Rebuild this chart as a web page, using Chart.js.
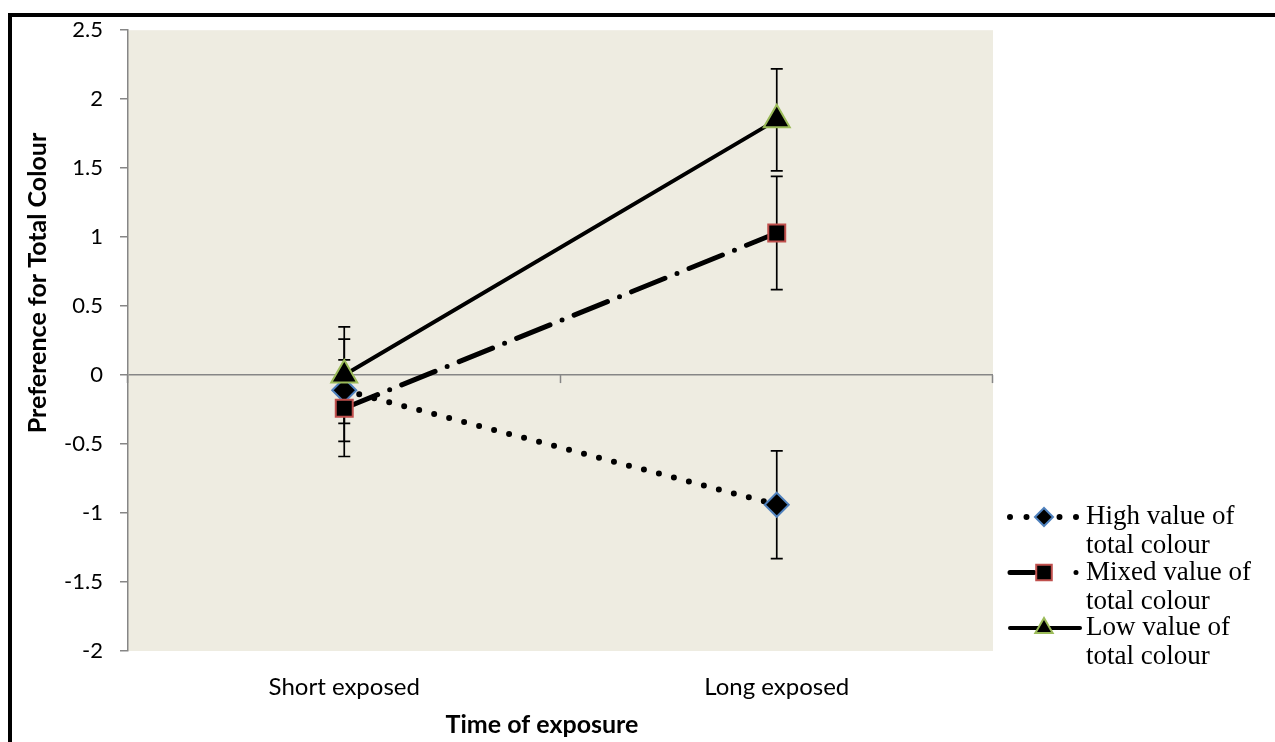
<!DOCTYPE html>
<html>
<head>
<meta charset="utf-8">
<script src="https://cdn.jsdelivr.net/npm/chart.js@4/dist/chart.umd.min.js"></script>
<style>
  html, body { margin: 0; padding: 0; background: #fff; overflow: hidden; }
  #wrap { position: absolute; left: 0; top: 0; width: 1275px; height: 742px; }
  #frame { position: absolute; left: 8px; top: 13px; width: 1300px; height: 800px;
           border-left: 4px solid #000; border-top: 4px solid #000; pointer-events: none; }
</style>
</head>
<body>
<div id="wrap"><canvas id="c" width="1275" height="742"></canvas></div>
<div id="frame"></div>
<script>
// Categories and series values (mean preference with error-bar half widths)
const categories = ['Short exposed', 'Long exposed'];
const seriesNames = [['High value of', 'total colour'], ['Mixed value of', 'total colour'], ['Low value of', 'total colour']];
const highValues = [-0.11, -0.94];
const highErrors = [0.37, 0.39];
const mixedValues = [-0.24, 1.03];
const mixedErrors = [0.35, 0.41];
const lowValues = [0.00, 1.85];
const lowErrors = [0.35, 0.37];
const yTicks = [-2, -1.5, -1, -0.5, 0, 0.5, 1, 1.5, 2, 2.5];
const xTitle = 'Time of exposure';
const yTitle = 'Preference for Total Colour';

const AXIS_FONT = 'Lato, "Open Sans", sans-serif';
const LEGEND_FONT = '"Liberation Serif", "DejaVu Serif", serif';

// Beige plot area
const plotBackground = {
  id: 'plotBackground',
  beforeDraw(chart) {
    const { ctx, chartArea: a } = chart;
    ctx.save();
    ctx.fillStyle = '#EEECE1';
    ctx.fillRect(a.left, a.top, a.right - a.left, a.bottom - a.top);
    ctx.restore();
  }
};

// Category tick marks hanging below the zero line, plus error bars
const zeroTicksAndErrors = {
  id: 'zeroTicksAndErrors',
  beforeDatasetsDraw(chart) {
    const { ctx, chartArea: a, scales: { x, y } } = chart;
    const y0 = y.getPixelForValue(0);
    ctx.save();
    ctx.strokeStyle = '#868686';
    ctx.lineWidth = 1.5;
    const n = categories.length;
    const step = (a.right - a.left) / n;
    for (let i = 0; i <= n; i++) {
      const px = Math.round(a.left + i * step) - 0.5;
      ctx.beginPath();
      ctx.moveTo(px, y0);
      ctx.lineTo(px, y0 + 8);
      ctx.stroke();
    }
    ctx.strokeStyle = '#000';
    ctx.lineWidth = 1.7;
    chart.data.datasets.forEach(ds => {
      ds.data.forEach((v, i) => {
        const e = ds.errors[i];
        const px = x.getPixelForValue(i);
        const top = y.getPixelForValue(v + e);
        const bot = y.getPixelForValue(v - e);
        ctx.beginPath();
        ctx.moveTo(px, top); ctx.lineTo(px, bot);
        ctx.moveTo(px - 6, top); ctx.lineTo(px + 6, top);
        ctx.moveTo(px - 6, bot); ctx.lineTo(px + 6, bot);
        ctx.stroke();
      });
    });
    ctx.restore();
  }
};

// Axis titles
const axisTitles = {
  id: 'axisTitles',
  afterDraw(chart) {
    const { ctx } = chart;
    ctx.save();
    ctx.fillStyle = '#000';
    ctx.font = 'bold 25px ' + AXIS_FONT;
    ctx.textAlign = 'center';
    ctx.textBaseline = 'middle';
    ctx.fillText(xTitle, 542, 725);
    ctx.translate(38, 283);
    ctx.rotate(-Math.PI / 2);
    ctx.fillText(yTitle, 0, 0);
    ctx.restore();
  }
};

// Two-line legend on the right with line samples
const sideLegend = {
  id: 'sideLegend',
  afterDraw(chart) {
    const { ctx } = chart;
    const rows = [517, 572.5, 628];
    ctx.save();
    chart.data.datasets.forEach((ds, i) => {
      const yy = rows[i];
      ctx.save();
      ctx.strokeStyle = ds.borderColor;
      ctx.lineWidth = ds.borderWidth;
      ctx.lineCap = ds.borderCapStyle || 'butt';
      ctx.setLineDash(ds.legendDash || ds.borderDash || []);
      ctx.beginPath();
      ctx.moveTo(1010, yy);
      ctx.lineTo(1080, yy);
      ctx.stroke();
      ctx.restore();
      ctx.save();
      ctx.fillStyle = ds.pointBackgroundColor;
      ctx.strokeStyle = ds.pointBorderColor;
      ctx.lineWidth = ds.pointBorderWidth;
      Chart.helpers.drawPoint(ctx, { pointStyle: ds.pointStyle, radius: ds.legendRadius, rotation: 0, borderWidth: ds.pointBorderWidth }, 1044, yy);
      ctx.restore();
      ctx.fillStyle = '#000';
      ctx.font = '27px ' + LEGEND_FONT;
      ctx.textAlign = 'left';
      ctx.textBaseline = 'middle';
      seriesNames[i].forEach((t, k) => ctx.fillText(t, 1086, yy + k * 29));
    });
    ctx.restore();
  }
};

new Chart(document.getElementById('c'), {
  type: 'line',
  data: {
    labels: categories,
    datasets: [
      {
        label: seriesNames[0].join(' '), data: highValues, errors: highErrors,
        borderColor: '#000', borderWidth: 6, borderDash: [0, 15.5], borderCapStyle: 'round',
        legendDash: [0, 16.5],
        pointStyle: 'rectRot', pointRadius: 12, pointHoverRadius: 12, legendRadius: 9,
        pointBackgroundColor: '#000', pointBorderColor: '#4F81BD', pointBorderWidth: 2,
        fill: false, tension: 0, order: 3
      },
      {
        label: seriesNames[1].join(' '), data: mixedValues, errors: mixedErrors,
        borderColor: '#000', borderWidth: 5, borderDash: [36, 13, 0, 13], borderCapStyle: 'round',
        legendDash: [24, 42, 0, 100],
        pointStyle: 'rect', pointRadius: 12, pointHoverRadius: 12, legendRadius: 11,
        pointBackgroundColor: '#000', pointBorderColor: '#C0504D', pointBorderWidth: 2,
        fill: false, tension: 0, order: 2
      },
      {
        label: seriesNames[2].join(' '), data: lowValues, errors: lowErrors,
        borderColor: '#000', borderWidth: 4, borderCapStyle: 'round',
        pointStyle: 'triangle', pointRadius: 15, pointHoverRadius: 15, legendRadius: 10,
        pointBackgroundColor: '#000', pointBorderColor: '#9BBB59', pointBorderWidth: 2,
        fill: false, tension: 0, order: 1
      }
    ]
  },
  options: {
    responsive: false,
    animation: false,
    devicePixelRatio: 1,
    layout: { padding: { left: 0, right: 282, top: 29, bottom: 0 } },
    plugins: { legend: { display: false }, tooltip: { enabled: false }, title: { display: false } },
    scales: {
      x: {
        type: 'category', offset: true,
        grid: { display: false, drawTicks: false, offset: true },
        border: { display: false },
        ticks: { font: { family: AXIS_FONT, size: 24 }, color: '#000', padding: 22, maxRotation: 0, autoSkip: false },
        afterFit(s) { s.height = 91; }
      },
      y: {
        min: -2, max: 2.5,
        afterBuildTicks(s) { s.ticks = yTicks.map(v => ({ value: v })); },
        grid: {
          drawOnChartArea: true,
          color: c => (c.tick && c.tick.value === 0 ? '#868686' : 'rgba(0,0,0,0)'),
          lineWidth: 1.5, tickColor: '#868686', tickLength: 8
        },
        border: { display: true, color: '#868686', width: 1.5 },
        ticks: { font: { family: AXIS_FONT, size: 22 }, color: '#000', padding: 17, callback: v => String(v) },
        afterFit(s) { s.width = 128; }
      }
    }
  },
  plugins: [plotBackground, zeroTicksAndErrors, axisTitles, sideLegend]
});
</script>
</body>
</html>
